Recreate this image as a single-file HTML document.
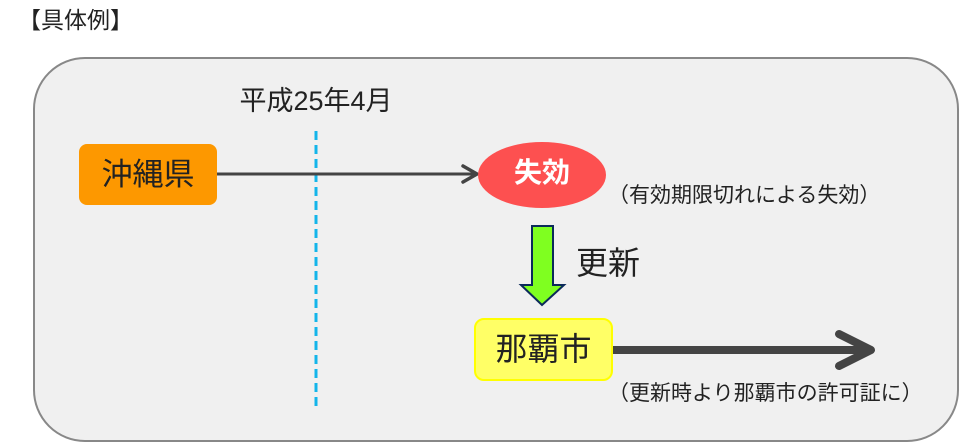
<!DOCTYPE html>
<html><head><meta charset="utf-8"><style>
body{margin:0;width:960px;height:443px;background:#fff;position:relative;overflow:hidden;font-family:"Liberation Sans","Noto Sans CJK JP",sans-serif;color:#222}
.a{position:absolute;white-space:nowrap}
</style></head><body>
<div class="a" style="left:18px;top:5px;font-size:23px;line-height:30px">【具体例】</div>
<div class="a" style="left:33px;top:57px;width:922px;height:381px;border:2.5px solid #888;border-radius:52px;background:#f0f0f0"></div>
<svg class="a" style="left:0;top:0" width="960" height="443">
<line x1="316" y1="131" x2="316" y2="406" stroke="#13b5ea" stroke-width="3" stroke-dasharray="9,5"/>
<line x1="217" y1="174" x2="476" y2="174" stroke="#444" stroke-width="3"/>
<polyline points="463,166 477,174 463,182" fill="none" stroke="#444" stroke-width="3.5" stroke-linecap="round"/>
<ellipse cx="542" cy="175" rx="64" ry="33" fill="#fd5050"/>
<polygon points="532,226 553,226 553,285 564,285 542,305 521,285 532,285" fill="#7fff20" stroke="#0b2a5a" stroke-width="2"/>
<line x1="613" y1="350" x2="868" y2="350" stroke="#444" stroke-width="8"/>
<polyline points="839,334 871,350 839,366" fill="none" stroke="#444" stroke-width="8" stroke-linecap="round" stroke-linejoin="round"/>
</svg>
<div class="a" style="left:79px;top:144px;width:138px;height:61px;background:#fd9800;border-radius:8px;font-size:31px;line-height:61px;text-align:center">沖縄県</div>
<div class="a" style="left:316px;top:84px;transform:translateX(-50%);font-size:27px;line-height:34px">平成25年4月</div>
<div class="a" style="left:478px;top:155px;width:128px;text-align:center;font-size:28px;line-height:36px;font-weight:bold;color:#fff">失効</div>
<div class="a" style="left:608px;top:182px;font-size:21px;line-height:28px">（有効期限切れによる失効）</div>
<div class="a" style="left:576px;top:243px;font-size:32px;line-height:40px">更新</div>
<div class="a" style="left:474px;top:318px;width:135px;height:59px;background:#ffff66;border:2px solid #ffff00;border-radius:10px;font-size:32px;line-height:59px;text-align:center">那覇市</div>
<div class="a" style="left:608px;top:380px;font-size:21px;line-height:28px">（更新時より那覇市の許可証に）</div>
</body></html>
